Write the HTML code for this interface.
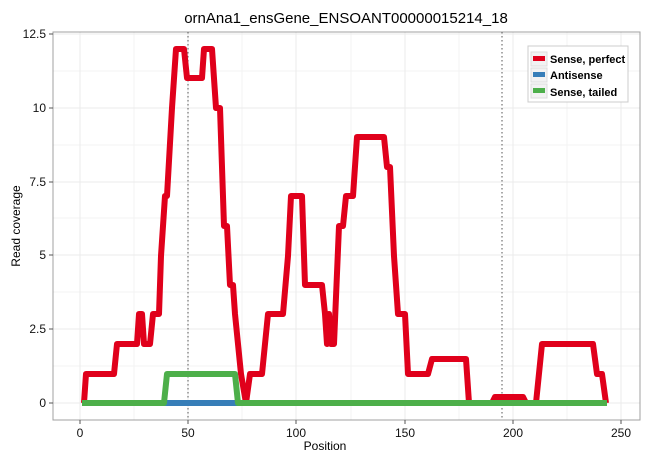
<!DOCTYPE html>
<html><head><style>
html,body{margin:0;padding:0;background:#fff;}
svg{display:block;font-family:"Liberation Sans",Arial,sans-serif;}
</style></head><body>
<svg width="650" height="460" viewBox="0 0 650 460" xmlns="http://www.w3.org/2000/svg">
<rect width="650" height="460" fill="#fff"/>
<g stroke="#f3f3f3" stroke-width="1">
<line x1="53" x2="640" y1="366" y2="366"/>
<line x1="53" x2="640" y1="292" y2="292"/>
<line x1="53" x2="640" y1="218" y2="218"/>
<line x1="53" x2="640" y1="145" y2="145"/>
<line x1="53" x2="640" y1="71" y2="71"/>
<line y1="32" y2="420" x1="134" x2="134"/>
<line y1="32" y2="420" x1="242" x2="242"/>
<line y1="32" y2="420" x1="351" x2="351"/>
<line y1="32" y2="420" x1="459" x2="459"/>
<line y1="32" y2="420" x1="567" x2="567"/>
</g>
<g stroke="#ebebeb" stroke-width="1">
<line x1="53" x2="640" y1="403" y2="403"/>
<line x1="53" x2="640" y1="329" y2="329"/>
<line x1="53" x2="640" y1="255" y2="255"/>
<line x1="53" x2="640" y1="182" y2="182"/>
<line x1="53" x2="640" y1="108" y2="108"/>
<line x1="53" x2="640" y1="34" y2="34"/>
<line y1="32" y2="420" x1="80" x2="80"/>
<line y1="32" y2="420" x1="188" x2="188"/>
<line y1="32" y2="420" x1="296" x2="296"/>
<line y1="32" y2="420" x1="405" x2="405"/>
<line y1="32" y2="420" x1="513" x2="513"/>
<line y1="32" y2="420" x1="621" x2="621"/>
</g>
<rect x="53" y="32" width="587" height="388" fill="none" stroke="#a0a0a0" stroke-width="1"/>
<line x1="188" x2="188" y1="32" y2="420" stroke="#555" stroke-width="1" stroke-dasharray="1.5,2.5"/>
<line x1="502" x2="502" y1="32" y2="420" stroke="#555" stroke-width="1" stroke-dasharray="1.5,2.5"/>
<polyline fill="none" stroke="#e0001b" stroke-width="6" stroke-linejoin="round" points="84,403 86,374 114,374 117,344 137,344 139,314 142,314 144,344 150,344 153,314 159,314 161,256 165,196 167,196 172,108 176,49 184,49 187,78 202,78 204,49 212,49 216,108 220,108 224,226 227,226 230,285 233,285 235,314 238,344 241,374 246,403 250,374 262,374 268,314 283,314 288,256 291,196 302,196 305,285 322,285 325,314 327,344 329,314 331,344 334,344 339,226 343,226 346,196 353,196 357,137 384,137 387,167 390,167 394,256 398,314 405,314 408,374 428,374 432,359 466,359 469,403 492,403 495,397 523,397 526,403 536,403 542,344 593,344 597,374 602,374 606,403"/>
<polyline fill="none" stroke="#377eb8" stroke-width="6" points="164,403 238,403"/>
<polyline fill="none" stroke="#4daf4a" stroke-width="6" stroke-linejoin="round" points="82,403 164,403 167,374 235,374 238,403 607,403"/>
<g stroke="#555" stroke-width="1">
<line x1="49" x2="53" y1="403" y2="403"/><line x1="49" x2="53" y1="329" y2="329"/>
<line x1="49" x2="53" y1="255" y2="255"/><line x1="49" x2="53" y1="182" y2="182"/>
<line x1="49" x2="53" y1="108" y2="108"/><line x1="49" x2="53" y1="34" y2="34"/>
<line y1="420" y2="424" x1="80" x2="80"/><line y1="420" y2="424" x1="188" x2="188"/>
<line y1="420" y2="424" x1="296" x2="296"/><line y1="420" y2="424" x1="405" x2="405"/>
<line y1="420" y2="424" x1="513" x2="513"/><line y1="420" y2="424" x1="621" x2="621"/>
</g>
<g font-size="12" fill="#111" text-anchor="end">
<text x="46" y="407">0</text><text x="46" y="333">2.5</text><text x="46" y="259">5</text>
<text x="46" y="186">7.5</text><text x="46" y="112">10</text><text x="46" y="38">12.5</text>
</g>
<g font-size="12" fill="#111" text-anchor="middle">
<text x="80" y="437">0</text><text x="188" y="437">50</text><text x="296" y="437">100</text>
<text x="405" y="437">150</text><text x="513" y="437">200</text><text x="621" y="437">250</text>
</g>
<text x="325" y="450" font-size="12" text-anchor="middle" fill="#000">Position</text>
<text transform="translate(20,226) rotate(-90)" font-size="12" text-anchor="middle" fill="#000">Read coverage</text>
<text x="346" y="23" font-size="15" text-anchor="middle" fill="#000">ornAna1_ensGene_ENSOANT00000015214_18</text>
<rect x="528" y="46" width="100" height="56" fill="#fff" stroke="#ccc"/>
<g font-size="11" font-weight="bold" fill="#000">
<rect x="531" y="52" width="16" height="14" fill="#f2f2f2" stroke="#ddd"/>
<rect x="533" y="56" width="12" height="5" fill="#e0001b"/>
<text x="550" y="63">Sense, perfect</text>
<rect x="531" y="68" width="16" height="14" fill="#f2f2f2" stroke="#ddd"/>
<rect x="533" y="72" width="12" height="5" fill="#377eb8"/>
<text x="550" y="79">Antisense</text>
<rect x="531" y="84" width="16" height="14" fill="#f2f2f2" stroke="#ddd"/>
<rect x="533" y="88" width="12" height="5" fill="#4daf4a"/>
<text x="550" y="96">Sense, tailed</text>
</g>
</svg>
</body></html>
